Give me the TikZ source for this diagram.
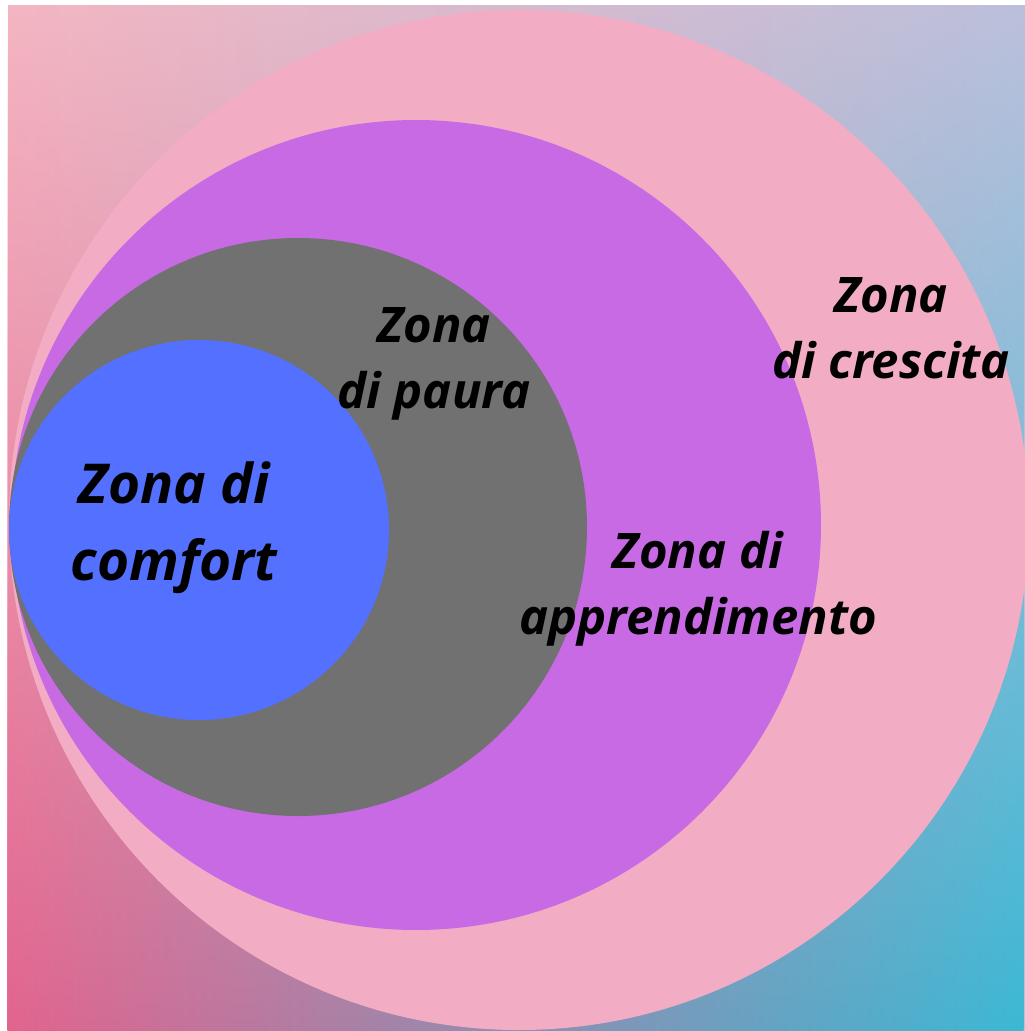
\documentclass[tikz,border=0pt]{standalone}
\usepackage{fontspec}
\setmainfont{Open Sans}
\usetikzlibrary{fadings}
\definecolor{crescita}{HTML}{F2ADC4}
\definecolor{appr}{HTML}{C86AE4}
\definecolor{paura}{HTML}{717171}
\definecolor{comfortc}{HTML}{5470FE}
\definecolor{bgTL}{HTML}{F4B6C2}
\definecolor{bgTM}{HTML}{DCA6C8}
\definecolor{bgTR}{HTML}{BCC0DC}
\definecolor{bgBL}{HTML}{E2648E}
\definecolor{bgBM}{HTML}{9A72B8}
\definecolor{bgBR}{HTML}{3CB8D4}
\tikzset{
  zone/.style={draw=none},
  zlabel/.style={font=\bfseries\itshape\fontsize{49}{66}\selectfont, align=center, text=black, inner sep=0pt},
  zbig/.style={font=\bfseries\itshape\fontsize{55}{77}\selectfont, align=center, text=black, inner sep=0pt}
}
\begin{document}
\begin{tikzpicture}[x=1pt,y=-1pt]
\useasboundingbox (0,0) rectangle (1025,1031);
\fill[white] (0,0) rectangle (1025,1031);
\shade[left color=bgTL, middle color=bgTM, right color=bgTR] (8,5) rectangle (1025,1031);
\shade[left color=bgBL, middle color=bgBM, right color=bgBR, path fading=north] (8,5) rectangle (1025,1031);
% zones
\fill[zone, crescita] (519,520) circle[radius=510];
\fill[zone, appr] (416,525) circle[radius=405];
\fill[zone, paura] (298,527) circle[radius=289];
\fill[zone, comfortc] (199,530) circle[radius=190];
% labels
\node[zbig] (comfort) at (174,528) {Zona di\\comfort};
\node[zlabel] (paura) at (434,364) {Zona\\di paura};
\node[zlabel] (crescita) at (891,328) {Zona\\di crescita};
\node[zlabel] (appr) at (698,589) {Zona di\\apprendimento};
\end{tikzpicture}
\end{document}
